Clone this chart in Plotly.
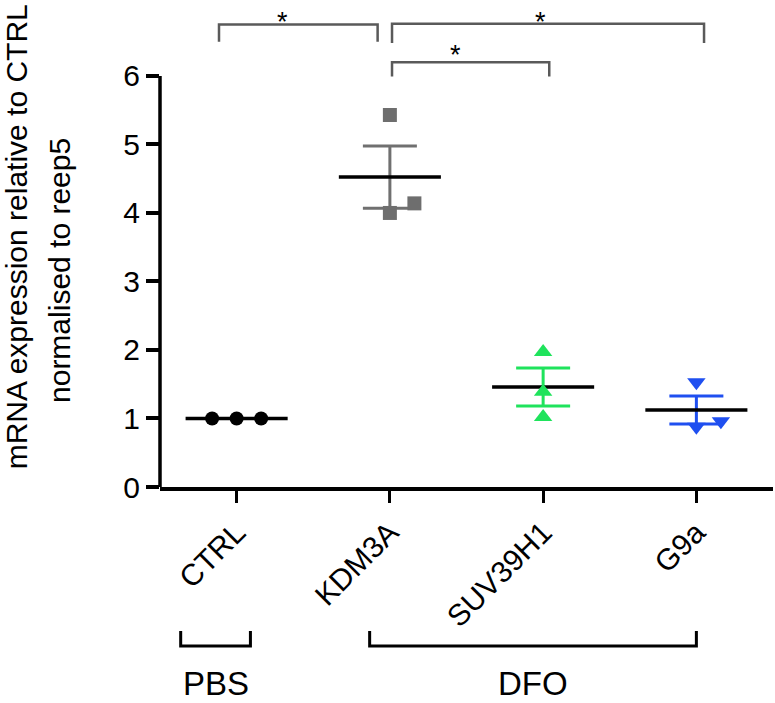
import numpy as np
import plotly.graph_objects as go

# ---------------- data ----------------
categories = ["CTRL", "KDM3A", "SUV39H1", "G9a"]
ctrl_values = [1.0, 1.0, 1.0]
kdm3a_values = [5.43, 4.0, 4.14]
suv39h1_values = [1.97, 1.39, 1.02]
g9a_values = [1.53, 0.96, 0.88]
y_tick_values = [0, 1, 2, 3, 4, 5, 6]
group_labels = ["PBS", "DFO"]
y_title_lines = ["mRNA expression relative to CTRL", "normalised to reep5"]
significance = ["*", "*", "*"]

# ---------------- styles / layout ----------------
series = [
    dict(vals=ctrl_values, symbol="circle", size=14, color="#000000", errcolor="#000000", jitter=[-0.16, 0.0, 0.16]),
    dict(vals=kdm3a_values, symbol="square", size=14, color="#6e6e6e", errcolor="#707070", jitter=[0.0, 0.0, 0.16]),
    dict(vals=suv39h1_values, symbol="triangle-up", size=16, color="#1fe35c", errcolor="#1fe35c", jitter=[0.0, 0.0, 0.0]),
    dict(vals=g9a_values, symbol="triangle-down", size=16, color="#1f4ff0", errcolor="#1f4ff0", jitter=[0.0, 0.16, 0.0]),
]
FONT = "Liberation Sans, Arial, sans-serif"
MEAN_HALF = 0.333

fig = go.Figure()

for i, s in enumerate(series):
    v = np.array(s["vals"], dtype=float)
    mean = v.mean()
    sem = v.std(ddof=1) / np.sqrt(len(v))
    if sem > 0:
        fig.add_trace(go.Scatter(
            x=[categories[i]], y=[mean], mode="markers",
            marker=dict(size=1, opacity=0),
            error_y=dict(type="data", array=[sem], visible=True,
                         color=s["errcolor"], thickness=3, width=27),
            showlegend=False, hoverinfo="skip"))
    fig.add_trace(go.Scatter(
        x=[i - MEAN_HALF, i + MEAN_HALF], y=[mean, mean], mode="lines",
        line=dict(color="#000000", width=3.5), showlegend=False,
        hoverinfo="skip", xaxis="x2"))
    fig.add_trace(go.Scatter(
        x=[i + j for j in s["jitter"]], y=list(v), mode="markers",
        marker=dict(symbol=s["symbol"], size=s["size"], color=s["color"],
                    line=dict(width=0)),
        showlegend=False, xaxis="x2", cliponaxis=False))

# significance brackets (bracket lines in data coords, star label box top in paper coords)
brackets = [
    dict(x0=-0.115, x1=0.92, ytop=6.75, yleg=6.50, sx=0.30, s_top=0.998),
    dict(x0=1.014, x1=3.05, ytop=6.76, yleg=6.48, sx=1.98, s_top=0.998),
    dict(x0=1.014, x1=2.04, ytop=6.20, yleg=5.99, sx=1.43, s_top=0.930),
]
shapes = []
annotations = []
for b, star in zip(brackets, significance):
    shapes.append(dict(
        type="path", xref="x2", yref="y",
        path=f"M{b['x0']},{b['yleg']} L{b['x0']},{b['ytop']} L{b['x1']},{b['ytop']} L{b['x1']},{b['yleg']}",
        line=dict(color="#5a5a5a", width=2.5)))
    annotations.append(dict(
        x=b["sx"], y=b["s_top"], xref="x2", yref="paper", text=star, showarrow=False,
        font=dict(family=FONT, size=27, color="#000000"),
        xanchor="center", yanchor="top"))

# manual y axis line from 0 to 6
shapes.append(dict(type="line", xref="paper", yref="y", x0=0, x1=0, y0=0, y1=6,
                   line=dict(color="#000000", width=3.5)))

# group brackets below the axis
groups = [dict(x0=-0.365, x1=0.09), dict(x0=0.868, x1=3.0)]
for g, lab in zip(groups, group_labels):
    shapes.append(dict(
        type="path", xref="x2", yref="paper",
        path=f"M{g['x0']},-0.298 L{g['x0']},-0.329 L{g['x1']},-0.329 L{g['x1']},-0.298",
        line=dict(color="#000000", width=3)))
    annotations.append(dict(
        x=(g["x0"] + g["x1"]) / 2, y=-0.406, xref="x2", yref="paper", text=lab,
        showarrow=False, font=dict(family=FONT, size=33, color="#000000"),
        xanchor="center", yanchor="middle"))

# y title as two lines
annotations.append(dict(x=-0.234, y=0.518, xref="paper", yref="paper",
                        text=y_title_lines[0], textangle=-90, showarrow=False,
                        font=dict(family=FONT, size=30, color="#000000"),
                        xanchor="center", yanchor="middle"))
annotations.append(dict(x=-0.165, y=0.449, xref="paper", yref="paper",
                        text=y_title_lines[1], textangle=-90, showarrow=False,
                        font=dict(family=FONT, size=30, color="#000000"),
                        xanchor="center", yanchor="middle"))

fig.update_layout(
    width=775, height=703,
    margin=dict(l=160, r=2, t=4, b=216),
    paper_bgcolor="white", plot_bgcolor="white",
    showlegend=False,
    font=dict(family=FONT, size=30, color="#000000"),
    xaxis=dict(type="category", categoryorder="array", categoryarray=categories,
               range=[-0.5, 3.5], showline=True, linecolor="#000000", linewidth=3.5,
               ticks="outside", ticklen=12, tickwidth=3, tickcolor="#000000",
               tickangle=-45, tickfont=dict(family=FONT, size=30, color="#000000"),
               showgrid=False, zeroline=False, fixedrange=True),
    xaxis2=dict(overlaying="x", range=[-0.5, 3.5], visible=False),
    yaxis=dict(range=[0, 7.05], showline=False, tickmode="array",
               tickvals=y_tick_values, ticks="outside", ticklen=13, tickwidth=3.5,
               tickcolor="#000000", tickfont=dict(family=FONT, size=30, color="#000000"),
               showgrid=False, zeroline=False),
    shapes=shapes,
    annotations=annotations,
)

fig.write_html("out.html", config={"displayModeBar": False},
               post_script="document.body.style.margin='0';")
